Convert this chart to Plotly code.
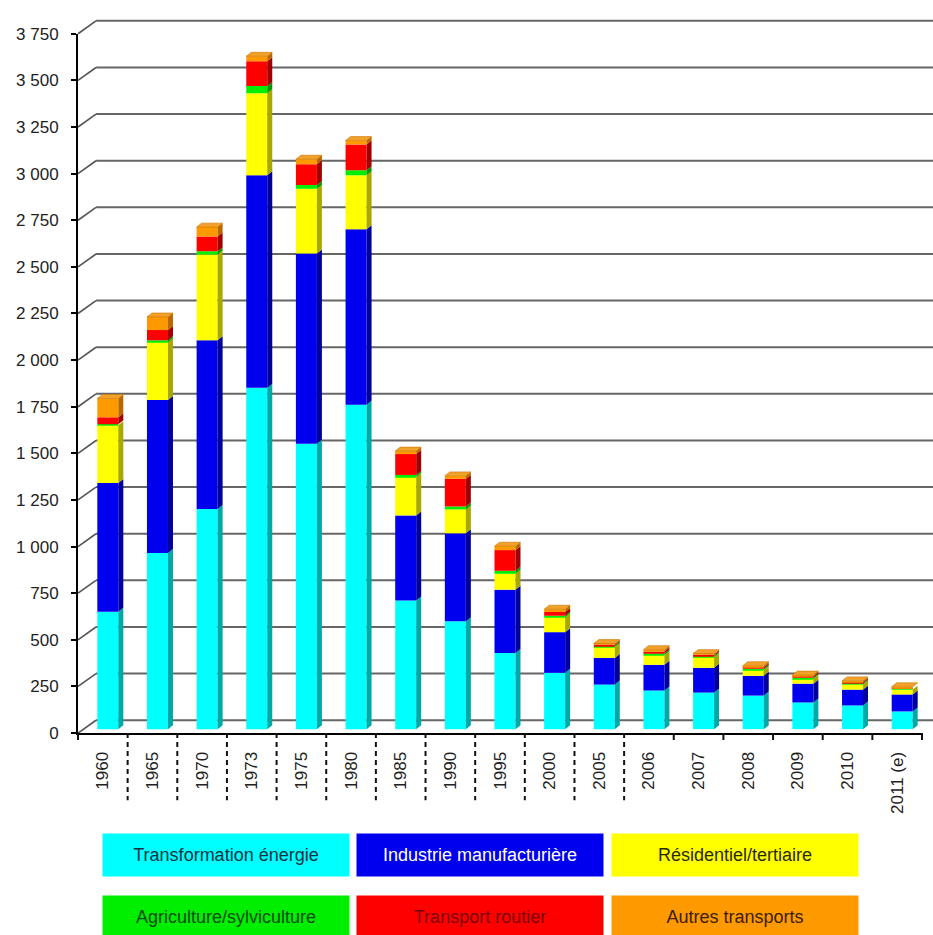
import plotly.graph_objects as go

# Émissions par secteur (stacked, pseudo-3D columns)
years = ["1960", "1965", "1970", "1973", "1975", "1980", "1985", "1990", "1995",
         "2000", "2005", "2006", "2007", "2008", "2009", "2010", "2011 (e)"]

transformation = [630, 945, 1180, 1830, 1530, 1740, 690, 578, 408, 302, 239, 207, 196, 180, 143, 127, 95]
industrie = [690, 820, 905, 1140, 1020, 940, 456, 472, 340, 218, 143, 138, 133, 106, 101, 85, 91]
residentiel = [310, 310, 460, 440, 347, 290, 207, 128, 85, 80, 58, 53, 58, 32, 26, 27, 26]
agriculture = [5, 10, 17, 38, 21, 27, 10, 16, 16, 8, 7, 8, 6, 6, 6, 6, 5]
routier = [37, 55, 80, 133, 111, 138, 112, 148, 111, 20, 6, 10, 6, 8, 7, 7, 5]
autres = [101, 70, 50, 27, 27, 21, 16, 16, 21, 15, 6, 10, 6, 8, 7, 7, 5]

series_names = ["Transformation énergie", "Industrie manufacturière", "Résidentiel/tertiaire",
                "Agriculture/sylviculture", "Transport routier", "Autres transports"]
series_values = [transformation, industrie, residentiel, agriculture, routier, autres]
front_colors = ["#00ffff", "#0000ee", "#ffff00", "#00ee00", "#ff0000", "#ff9900"]
side_colors = ["#00a8a8", "#00009a", "#a8a800", "#009a00", "#a00000", "#b86800"]
legend_text_colors = ["#0c3440", "#ffffff", "#2a2a00", "#0a4a0a", "#7a0000", "#3a2000"]

y_ticks = list(range(0, 3751, 250))

# page geometry (pixel positions measured from the top-left corner)
W, H = 933, 935
PAPER_H = 926                   # height of the paper-referenced area
X0_PX, X1_PX = 78, 922          # front x axis extent
Y0_PX, Y1_PX = 732, 25          # front y axis: value 0 and 3750
YMAX = 3750
cat_px = (X1_PX - X0_PX) / len(years)
val_px = (Y0_PX - Y1_PX) / YMAX
WALL_DX, WALL_DY = 18, 13       # back wall offset (px)
BAR_DX, BAR_DY = 5, 4           # bar depth offset (px)
BAR_W_PX = 21


def paper_x(px):
    return px / W


def paper_y(py):
    return (PAPER_H - py) / PAPER_H


dx_bar = BAR_DX / cat_px
dy_bar = BAR_DY / val_px
bar_w = BAR_W_PX / cat_px
base0 = dy_bar
xs = [i + dx_bar for i in range(len(years))]

fig = go.Figure()

# front faces
cum = [base0] * len(years)
segments = []
for name, vals, col in zip(series_names, series_values, front_colors):
    fig.add_trace(go.Bar(
        x=xs, y=vals, base=list(cum), width=bar_w, name=name,
        marker=dict(color=col, line=dict(width=0)),
        hoverinfo="skip", showlegend=False))
    segments.append((list(cum), [c + v for c, v in zip(cum, vals)]))
    cum = [c + v for c, v in zip(cum, vals)]

# side faces
for (bottoms, tops), col in zip(segments, side_colors):
    px_, py_ = [], []
    for x, b, t in zip(xs, bottoms, tops):
        xr = x + bar_w / 2
        px_ += [xr, xr + dx_bar, xr + dx_bar, xr, xr, None]
        py_ += [b, b + dy_bar, t + dy_bar, t, b, None]
    fig.add_trace(go.Scatter(x=px_, y=py_, mode="lines", fill="toself",
                             fillcolor=col, line=dict(width=0, color=col),
                             hoverinfo="skip", showlegend=False))

# top faces
px_, py_ = [], []
for x, t in zip(xs, cum):
    xl, xr = x - bar_w / 2, x + bar_w / 2
    px_ += [xl, xl + dx_bar, xr + dx_bar, xr, xl, None]
    py_ += [t, t + dy_bar, t + dy_bar, t, t, None]
fig.add_trace(go.Scatter(x=px_, y=py_, mode="lines", fill="toself",
                         fillcolor="#f2a22a", line=dict(width=0.6, color="#c87400"),
                         hoverinfo="skip", showlegend=False))

shapes = []
# back wall gridlines and their links to the front axis
for v in y_ticks:
    yf = Y0_PX - v * val_px
    yb = yf - WALL_DY
    shapes.append(dict(type="line", xref="paper", yref="paper",
                       x0=paper_x(X0_PX), y0=paper_y(yf), x1=paper_x(X0_PX + WALL_DX), y1=paper_y(yb),
                       line=dict(color="#555555", width=1.6), layer="below"))
    shapes.append(dict(type="line", xref="paper", yref="paper",
                       x0=paper_x(X0_PX + WALL_DX), y0=paper_y(yb), x1=1.0, y1=paper_y(yb),
                       line=dict(color="#666666", width=2), layer="below"))

# category separators under the x axis
n = len(years)
for k in range(n + 1):
    xb = X0_PX + k * cat_px
    if 1 <= k <= 11:
        shapes.append(dict(type="line", xref="paper", yref="paper",
                           x0=paper_x(xb), y0=paper_y(Y0_PX), x1=paper_x(xb), y1=paper_y(800),
                           line=dict(color="#111111", width=2, dash="5px,4px")))
    else:
        shapes.append(dict(type="line", xref="paper", yref="paper",
                           x0=paper_x(xb), y0=paper_y(Y0_PX), x1=paper_x(xb), y1=paper_y(Y0_PX + 7),
                           line=dict(color="#111111", width=2)))

# legend boxes
box_w, box_h = 246, 42
col_x = [103, 357, 612]
row_y = [834, 897]
annotations = []
for idx, (name, col, tcol) in enumerate(zip(series_names, front_colors, legend_text_colors)):
    r, c = divmod(idx, 3)
    annotations.append(dict(
        xref="paper", yref="paper", x=paper_x(col_x[c] + box_w / 2), y=paper_y(row_y[r] + box_h / 2),
        xanchor="center", yanchor="middle", showarrow=False,
        text=name, width=box_w - 2, height=box_h - 2, bgcolor=col, borderpad=1,
        font=dict(family="Liberation Sans Narrow, Arial Narrow, Liberation Sans, Arial",
                  size=18, color=tcol)))

tick_font = dict(family="Liberation Sans, Arial, sans-serif", size=17, color="#222222")

fig.update_layout(
    width=W, height=H, margin=dict(l=0, r=0, t=0, b=0),
    paper_bgcolor="white", plot_bgcolor="rgba(0,0,0,0)",
    barmode="overlay", separators=", ",
    shapes=shapes, annotations=annotations, showlegend=False,
    xaxis=dict(domain=[paper_x(X0_PX), paper_x(X1_PX)], range=[-0.5, n - 0.5],
               tickvals=list(range(n)), ticktext=years, tickangle=-90,
               ticks="", showgrid=False, zeroline=False,
               showline=True, linecolor="#000000", linewidth=2,
               tickfont=tick_font, ticklabelstandoff=10, fixedrange=True),
    yaxis=dict(domain=[paper_y(Y0_PX), paper_y(Y1_PX)], range=[0, YMAX],
               tickvals=y_ticks, tickformat=",d", ticks="outside", ticklen=5,
               tickwidth=1.5, tickcolor="#000000", showgrid=False, zeroline=False,
               showline=True, linecolor="#000000", linewidth=2,
               tickfont=tick_font, ticklabelstandoff=9, fixedrange=True),
)

fig.write_html("out.html")
